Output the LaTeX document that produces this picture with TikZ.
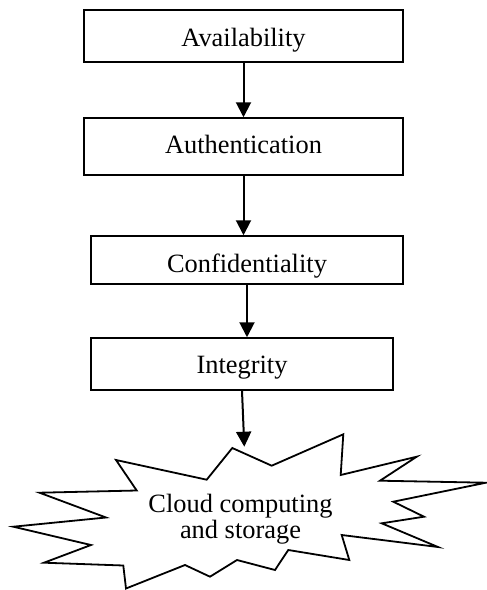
\documentclass[tikz,border=0pt]{standalone}
\usepackage{fontspec}
\setmainfont{Liberation Serif}
\usetikzlibrary{arrows.meta}
\begin{document}
\begin{tikzpicture}[x=1pt,y=-1pt,
  box/.style={draw,line width=1.5pt,inner sep=0pt,text depth=0pt,
    font=\fontsize{26.4}{26.6}\selectfont},
  flow/.style={line width=2pt,-{Triangle[length=15pt,width=15pt]}},
  burst/.style={draw,line width=1.8pt,line join=miter}]
\useasboundingbox (0,0) rectangle (487,590);
\node[box,minimum width=319pt,minimum height=52pt,text height=20pt] (avail) at (243.5,36) {Availability};
\node[box,minimum width=319pt,minimum height=57pt,text height=13.6pt] (auth) at (243.5,146.5) {Authentication};
\node[box,minimum width=312pt,minimum height=48pt,text height=24pt] (conf) at (247,260) {Confidentiality};
\node[box,minimum width=302pt,minimum height=52pt,text height=18pt] (integ) at (242,364) {Integrity};
\draw[burst] (232.3,448) -- (271.7,465.7) -- (343.3,434.3) -- (340.7,475) -- (416.7,456.7)
  -- (380,480.7) -- (486,482.7) -- (393.3,501.7) -- (424,516.7) -- (381.7,523.3)
  -- (438,547) -- (341.7,535) -- (349.3,560) -- (288.3,550) -- (275,570)
  -- (237,560) -- (210,576.7) -- (185,565) -- (126,588.5) -- (123.3,565.5)
  -- (44,562.7) -- (91,545) -- (13.3,526.7) -- (106,517.5) -- (39.5,492.7)
  -- (136.7,490.5) -- (116,460) -- (206.7,479.7) -- cycle;
\node[align=center,inner sep=0pt,font=\fontsize{26.4}{26.6}\selectfont] (cloud) at (240.5,519) {Cloud computing\\and storage};
\coordinate (burstTop) at (244.3,446.7);
\draw[flow] (avail.south) -- (auth.north);
\draw[flow] (auth.south) -- (conf.north -| auth.south);
\draw[flow] (conf.south) -- (integ.north -| conf.south);
\draw[flow] (integ.south) -- (burstTop);
\end{tikzpicture}
\end{document}
